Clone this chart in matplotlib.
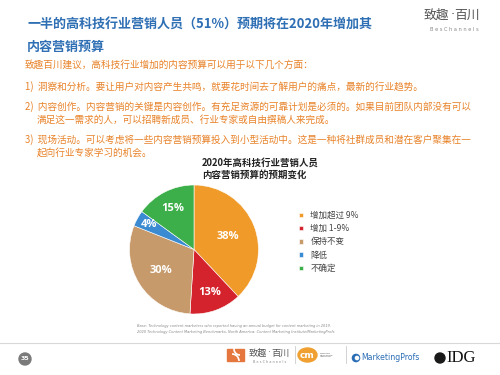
import matplotlib
matplotlib.use("Agg")
import matplotlib.pyplot as plt
import numpy as np
from matplotlib.patches import Circle, Rectangle, Ellipse, Arc

plt.rcParams['font.family'] = ['Noto Sans CJK SC', 'DejaVu Sans']

# ---------------- data ----------------
categories = ['增加超过 9%', '增加 1-9%', '保持不变', '降低', '不确定']
values = [38, 13, 30, 4, 15]
colors = ['#F09A2A', '#D4232C', '#C79A6B', '#3A8BD2', '#3CAE4A']
label_radius = [0.56, 0.71, 0.60, 0.80, 0.71]

title_lines = ['一半的高科技行业营销人员（51%）预期将在2020年增加其', '内容营销预算']
body_lines = [
    ('致趣百川建议，高科技行业增加的内容预算可以用于以下几个方面：', 25, 65),
    ('1)  洞察和分析。要让用户对内容产生共鸣，就要花时间去了解用户的痛点，最新的行业趋势。', 25, 87),
    ('2)  内容创作。内容营销的关键是内容创作。有充足资源的可靠计划是必须的。如果目前团队内部没有可以', 25, 107),
    ('满足这一需求的人，可以招聘新成员、行业专家或自由撰稿人来完成。', 37, 120),
    ('3)  现场活动。可以考虑将一些内容营销预算投入到小型活动中。这是一种将社群成员和潜在客户聚集在一', 25, 140),
    ('起向行业专家学习的机会。', 37, 153),
]
chart_title = ['2020年高科技行业营销人员', '内容营销预算的预期变化']
source_lines = ['Base: Technology content marketers who reported having an annual budget for content marketing in 2019.',
                '2020 Technology Content Marketing Benchmarks, North America: Content Marketing Institute/MarketingProfs']

W, H = 500, 375
fig = plt.figure(figsize=(5, 3.75), dpi=100, facecolor='white')

# background overlay in pixel coordinates
bg = fig.add_axes([0, 0, 1, 1], zorder=0)
bg.set_xlim(0, W)
bg.set_ylim(H, 0)
bg.axis('off')

# title
title_color = '#2F6FB4'
bg.text(28, 25, title_lines[0], fontsize=9.4, fontweight='bold', color=title_color, va='center', ha='left')
bg.text(27, 47, title_lines[1], fontsize=9.4, fontweight='bold', color=title_color, va='center', ha='left')


def brand(ax, x_left, y, size, sub_size, sub_y):
    """Draw the 致趣·百川 word mark with a narrow middle dot."""
    t1 = ax.text(x_left, y, '致趣', fontsize=size, color='#555555', va='center', ha='left')
    ax.text(x_left + size * 1.39 * 2 + size * 0.12, y, '·', fontsize=size, color='#555555',
            va='center', ha='left', family=['DejaVu Sans'])
    ax.text(x_left + size * 1.39 * 2 + size * 0.55, y, '百川', fontsize=size, color='#555555',
            va='center', ha='left')
    return t1


# top-right logo
brand(bg, 424, 15, 9.2, 3.6, 29)
bg.text(454, 29.5, ' '.join('BesChannels'), fontsize=3.6, color='#888888', va='center', ha='center',
        family=['DejaVu Sans'])

# body text
body_color = '#E8832A'
for txt, x, y in body_lines:
    bg.text(x, y, txt, fontsize=6.95, color=body_color, va='center', ha='left')

# chart title
bg.text(202, 163, chart_title[0], fontsize=6.8, fontweight='bold', color='#222222', va='center', ha='left')
bg.text(202, 174.5, chart_title[1], fontsize=6.8, fontweight='bold', color='#222222', va='center', ha='left')

# source
for i, s in enumerate(source_lines):
    bg.text(137, 326 + 6.2 * i, s, fontsize=2.6, style='italic', color='#8a8a8a',
            va='center', ha='left', family=['DejaVu Sans'])

# separator line
bg.plot([0, W], [343, 343], color='#d8d8d8', lw=0.8)

# page number
bg.add_patch(Circle((25, 359), 6, color='#7a7a7a'))
bg.text(25, 359, '35', fontsize=4.5, fontweight='bold', color='white', ha='center', va='center',
        family=['DejaVu Sans'])

# footer logo 1
bg.add_patch(Rectangle((227, 349), 17, 12, color='#E5773E'))
bg.add_patch(Arc((232, 361), 14, 14, theta1=270, theta2=360, color='white', lw=1.2))
bg.add_patch(Arc((240, 349), 12, 12, theta1=90, theta2=200, color='white', lw=1.2))
brand(bg, 249, 353, 6.6, 2.4, 362)
bg.text(270, 362, ' '.join('BesChannels'), fontsize=2.4, color='#888888', ha='center', va='center',
        family=['DejaVu Sans'])
bg.plot([295, 295], [346, 363], color='#cccccc', lw=0.6)

# CMI logo
bg.add_patch(Ellipse((307.5, 355), 19, 14, color='#F0A030'))
bg.text(307.5, 355, 'cm', fontsize=6.5, fontweight='bold', color='white', ha='center', va='center',
        family=['DejaVu Sans'])
bg.text(320, 355, 'CONTENT\nMARKETING\nINSTITUTE', fontsize=1.6, color='#555555', ha='left', va='center',
        family=['DejaVu Sans'], linespacing=1.1)
bg.plot([346, 346], [346, 363], color='#cccccc', lw=0.6)

# MarketingProfs
bg.add_patch(Circle((356, 358), 3.6, color='#2A6DB5'))
bg.add_patch(Circle((357, 358), 1.6, color='white'))
bg.text(361, 358, 'MarketingProfs', fontsize=5.6, color='#2A6DB5', ha='left', va='center',
        family=['DejaVu Sans'])

# IDG
bg.add_patch(Circle((440, 358), 5, color='#1a1a1a'))
bg.text(446, 358.5, 'IDG', fontsize=12, color='#111111', ha='left', va='center', family=['Liberation Serif'])

# ---------------- pie ----------------
cx, cy, r = 194, 249.5, 64.5
pie_ax = fig.add_axes([(cx - r) / W, (H - cy - r) / H, 2 * r / W, 2 * r / H], zorder=2)
wedges, _ = pie_ax.pie(values, colors=colors, startangle=90, counterclock=False,
                       wedgeprops=dict(edgecolor='white', linewidth=0.4))
pie_ax.set_xlim(-1, 1)
pie_ax.set_ylim(-1, 1)
pie_ax.set_aspect('equal')
pie_ax.axis('off')
for w, v, lr in zip(wedges, values, label_radius):
    ang = np.deg2rad((w.theta1 + w.theta2) / 2)
    pie_ax.text(lr * np.cos(ang), lr * np.sin(ang), f'{v}%', fontsize=8, fontweight='bold',
                color='white', ha='center', va='center', family=['Open Sans', 'DejaVu Sans'])

# legend
leg = fig.legend(wedges, categories, loc='upper left', bbox_to_anchor=(299 / W, 1 - 211 / H),
                 frameon=False, fontsize=6.1, handlelength=0.45, handleheight=0.45,
                 handletextpad=0.9, labelspacing=0.5, borderpad=0, borderaxespad=0)
for t in leg.get_texts():
    t.set_color('#444444')

fig.savefig('out.png', dpi=100, facecolor='white')
